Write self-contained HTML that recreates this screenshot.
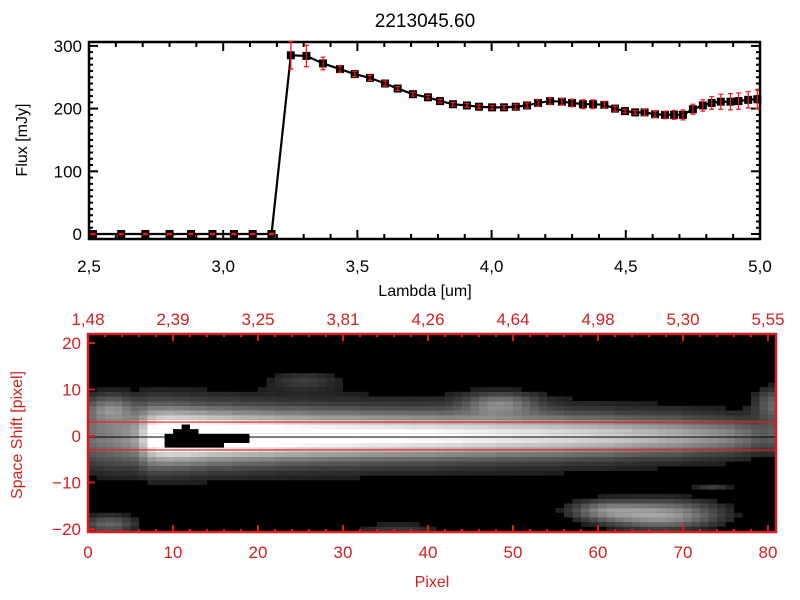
<!DOCTYPE html>
<html><head><meta charset="utf-8">
<style>
html,body{margin:0;padding:0;background:#fff;}
svg{display:block;font-family:"Liberation Sans",sans-serif;}
</style></head>
<body>
<svg id="chart" width="800" height="600" viewBox="0 0 800 600">
<rect x="0" y="0" width="800" height="600" fill="#fff"/>
<defs><clipPath id="imgclip"><rect x="88" y="334" width="688" height="198"/></clipPath></defs>
<text x="425" y="27" font-size="19" text-anchor="middle" fill="#000">2213045.60</text>
<g id="topPlot"></g>
<g id="botPlot"></g>
<text x="425" y="296" font-size="16" text-anchor="middle" fill="#000">Lambda [um]</text>
<text transform="translate(27,140) rotate(-90)" font-size="16" text-anchor="middle" fill="#000">Flux [mJy]</text>
<text x="432" y="587" font-size="16" text-anchor="middle" fill="#d02020">Pixel</text>
<text transform="translate(22,435) rotate(-90)" font-size="16" text-anchor="middle" fill="#d02020">Space Shift [pixel]</text>
</svg>
<script>
// ---- spectrum data ----
const lambdas = [2.515,2.62,2.71,2.80,2.88,2.96,3.04,3.11,3.18,
 3.252,3.31,3.372,3.435,3.49,3.547,3.603,3.65,3.707,3.763,3.808,3.856,3.908,3.953,4.002,4.046,4.09,4.132,
 4.173,4.218,4.262,4.30,4.34,4.378,4.42,4.46,4.497,4.535,4.57,4.609,4.646,4.68,4.713,4.75,4.787,4.82,4.854,4.89,
 4.92,4.956,4.99];
const flux = [0,0,0,0,0,0,0,0,0,
 285,284,272,263,255,249,240,232,223,218,212,207,205,203,202,202,203,205,
 209,212,211,209,207,207,206,200,196,194,194,191,190,190,190,199,205,209,211,211,
 212,214,215];
const fluxErr = [1,1,1,1,1,1,1,1,1,
 22,17,10,5,4,4,4,3,3,3,3,3,3,3,3,3,4,4,
 5,5,5,6,7,7,5,4,3,3,5,5,6,7,8,8,9,10,12,13,
 13,13,15];
const xTicks = ["2.5","3.0","3.5","4.0","4.5","5.0"];
const yTicks = ["0","100","200","300"];

// ---- image axes data ----
const pixTicks = ["0","10","20","30","40","50","60","70","80"];
const lamTopTicks = ["1.48","2.39","3.25","3.81","4.26","4.64","4.98","5.30","5.55"];
const shiftTicks = ["-20","-10","0","10","20"];
const colPeak = [0.35,0.38,0.4,0.42,0.45,0.5,0.65,0.85,0.95,1,1,1,1,0.98,0.97,0.96,0.95,0.94,0.93,0.92,
 0.9,0.9,0.89,0.88,0.88,0.87,0.87,0.86,0.86,0.85,0.85,0.84,0.84,0.83,0.83,0.82,0.82,0.81,0.8,0.8,
 0.8,0.79,0.78,0.78,0.77,0.76,0.76,0.75,0.74,0.74,0.73,0.72,0.72,0.71,0.7,0.7,0.69,0.68,0.67,0.66,
 0.65,0.64,0.63,0.62,0.6,0.59,0.58,0.56,0.55,0.54,0.52,0.5,0.48,0.46,0.44,0.42,0.38,0.35,0.3,0.28,0.3];
const colWidth = [5,5,5,5,4.8,4.6,4.4,4.2,4,3.9,3.8,3.8,3.7,3.7,3.6,3.6,3.6,3.5,3.5,3.5,
 3.5,3.5,3.4,3.4,3.4,3.4,3.3,3.3,3.3,3.3,3.3,3.3,3.2,3.2,3.2,3.2,3.2,3.2,3.2,3.2,
 3.2,3.1,3.1,3.1,3.1,3.1,3.1,3.1,3.0,3.0,3.0,3.0,3.0,3.0,3.0,3.0,2.9,2.9,2.9,2.9,
 2.9,2.9,2.8,2.8,2.8,2.8,2.8,2.8,2.8,2.8,2.7,2.7,2.7,2.7,2.7,2.7,2.7,2.7,2.7,2.7,2.7];
const blobCol = [67,60,48,2,2,36,80,25,73];
const blobRow = [-17,-16,7,-19,6,-20,7,12,-11];
const blobSx = [5,3,3,2.5,2,4,1.5,3,1.5];
const blobSy = [2.2,1.5,1.6,1.5,2,1,2.5,1.5,0.6];
const blobAmp = [0.62,0.35,0.38,0.4,0.3,0.22,0.35,0.18,0.2];
const satCols = [9,10,11,12,13,14,15,16,17,18,9,10,11,12,13,14,15,16,17,18,9,10,11,12,13,14,15,10,11,12,11];
const satRows = [0,0,0,0,0,0,0,0,0,0,-1,-1,-1,-1,-1,-1,-1,-1,-1,-1,-2,-2,-2,-2,-2,-2,-2,1,1,1,2];

const NS = "http://www.w3.org/2000/svg";
function mk(parent, tag, attrs){const e=document.createElementNS(NS,tag);for(const k in attrs)e.setAttribute(k,attrs[k]);parent.appendChild(e);return e;}

// ===== top plot =====
const topG = document.getElementById('topPlot');
const TX0=89, TX1=760, TY0=42, TY1=239;
const sx = v => TX0 + (v-2.5)/(2.5)*(TX1-TX0);
const sy = v => 234 - v*0.627;
let fr = mk(topG,'rect',{x:TX0,y:TY0,width:TX1-TX0,height:TY1-TY0,fill:'none',stroke:'#000','stroke-width':2.5});


for(let k=0; k<=25; k++){
  const v = 2.5 + k*0.1;
  const major = k%5===0;
  const L = major?9:5, x=sx(v);
  let t=mk(topG,'line',{x1:x,x2:x,y1:TY1,y2:TY1-L,stroke:'#000','stroke-width':2});
  
  
  t=mk(topG,'line',{x1:x,x2:x,y1:TY0,y2:TY0+L,stroke:'#000','stroke-width':2});
  
  
}
xTicks.forEach(s=>{
  const tx=mk(topG,'text',{x:sx(parseFloat(s)),y:272,'font-size':17,'text-anchor':'middle',fill:'#000'});
  tx.textContent=s.replace('.',',');
  
  
});
for(let v=-10; v<=300; v+=10){
  const major = v%100===0, L=major?9:4, y=sy(v);
  if(y<TY0||y>TY1) continue;
  let t=mk(topG,'line',{x1:TX0,x2:TX0+L,y1:y,y2:y,stroke:'#000','stroke-width':2});
  
  
  t=mk(topG,'line',{x1:TX1,x2:TX1-L,y1:y,y2:y,stroke:'#000','stroke-width':2});
  
  
}
yTicks.forEach(s=>{
  const tx=mk(topG,'text',{x:82,y:sy(parseFloat(s))+6,'font-size':17,'text-anchor':'end',fill:'#000'});
  tx.textContent=s;
  
  
});
let pts = lambdas.map((l,i)=>sx(l)+','+sy(flux[i])).join(' ');
let pl = mk(topG,'polyline',{points:pts,fill:'none',stroke:'#000','stroke-width':2.2});


lambdas.forEach((l,i)=>{
  const x=sx(l), y=sy(flux[i]);
  const m=mk(topG,'rect',{x:x-4,y:y-4,width:8,height:8,fill:'#000'});
  
  
  const y1=sy(flux[i]+fluxErr[i]), y2=sy(flux[i]-fluxErr[i]);
  const e=mk(topG,'path',{d:`M${x},${y1}V${y2}M${x-2.5},${y1}H${x+2.5}M${x-2.5},${y2}H${x+2.5}`,stroke:'#ff1010','stroke-width':1.2,fill:'none'});
  
  
});

// ===== bottom image =====
const botG = document.getElementById('botPlot');
const BX0=88, BX1=776, BY0=334, BY1=532;
const px = c => 88 + c*8.5;
const py = r => 436 - r*4.65;
const img = mk(botG,'g',{'clip-path':'url(#imgclip)'});


mk(img,'rect',{x:BX0,y:BY0,width:BX1-BX0,height:BY1-BY0,fill:'#000'});
const sat = new Set(satCols.map((c,i)=>c+'_'+satRows[i]));
for(let c=0;c<81;c++){
  for(let r=-21;r<=22;r++){
    let v = colPeak[c]*Math.exp(-r*r/(2*colWidth[c]*colWidth[c]))
          + 0.28*colPeak[c]*Math.exp(-r*r/(2*7*7));
    for(let b=0;b<blobCol.length;b++){
      const dx=(c-blobCol[b])/blobSx[b], dy=(r-blobRow[b])/blobSy[b];
      v += blobAmp[b]*Math.exp(-(dx*dx+dy*dy)/2);
    }
    if(sat.has(c+'_'+r)) continue;
    if(v<0.12) continue;
    const g = Math.round(Math.min(1,v)*255);
    const cell = mk(img,'rect',{x:px(c),y:py(r+0.5),width:8.6,height:4.75,fill:`rgb(${g},${g},${g})`});
    
    
  }
}
let ln = mk(botG,'line',{x1:BX0,x2:BX1,y1:py(0)+1,y2:py(0)+1,stroke:'#000','stroke-width':1});


[3,-3].forEach(v=>{
  const l=mk(botG,'line',{x1:BX0,x2:BX1,y1:py(v),y2:py(v),stroke:'#ff1010','stroke-width':1.2});
  
  
});
const RED='#d02020';
let bf = mk(botG,'rect',{x:BX0,y:BY0,width:BX1-BX0,height:BY1-BY0,fill:'none',stroke:RED,'stroke-width':2.5});


for(let c=0;c<=80;c+=2){
  const major=c%10===0, L=major?7:3, x=px(c);
  let t=mk(botG,'line',{x1:x,x2:x,y1:BY1,y2:BY1-L,stroke:RED,'stroke-width':2});
  
  
  t=mk(botG,'line',{x1:x,x2:x,y1:BY0,y2:BY0+L,stroke:RED,'stroke-width':2});
  
  
}
pixTicks.forEach(s=>{
  const t=mk(botG,'text',{x:px(parseFloat(s)),y:558,'font-size':17,'text-anchor':'middle',fill:RED});
  t.textContent=s;
  
  
});
lamTopTicks.forEach((s,i)=>{
  const t=mk(botG,'text',{x:px(i*10),y:325,'font-size':17,'text-anchor':'middle',fill:RED});
  t.textContent=s.replace('.',',');
  
  
});
shiftTicks.forEach(s=>{
  const v=parseFloat(s), y=py(v);
  let t=mk(botG,'line',{x1:BX0,x2:BX0+7,y1:y,y2:y,stroke:RED,'stroke-width':2});
  
  
  const tx=mk(botG,'text',{x:81,y:y+6,'font-size':17,'text-anchor':'end',fill:RED});
  tx.textContent=s.replace('-','\u2212');
  
  
});
</script>
</body></html>
